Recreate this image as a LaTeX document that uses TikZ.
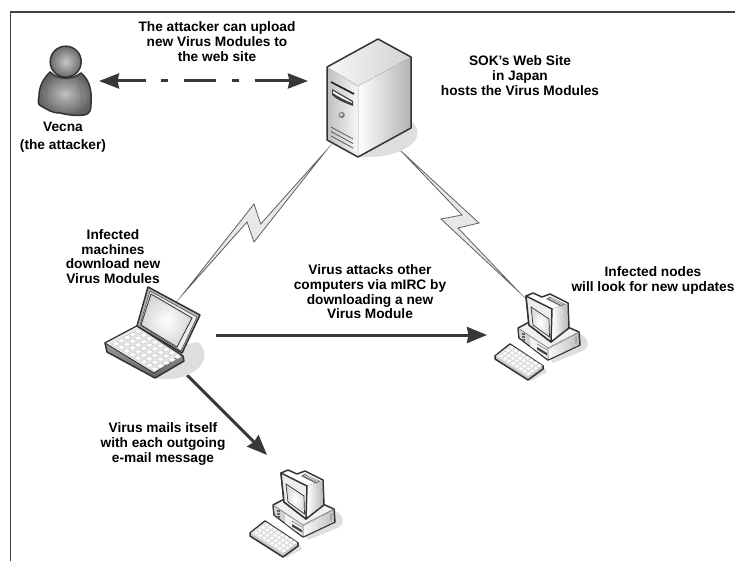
\documentclass[tikz,border=0pt]{standalone}
\usepackage{fontspec}
\setmainfont{Liberation Sans}
\usetikzlibrary{arrows.meta,shadings}
\tikzset{
 lab/.style={font=\bfseries\fontsize{13.7}{14.7}\selectfont,align=center,text=black,inner sep=0pt},
 anchorbox/.style={inner sep=0pt,minimum size=0pt,outer sep=0pt},
 bolt/.style={draw=black!62,fill=black!9,line width=.8pt,line join=miter,miter limit=40},
 flow/.style={draw=black!78,line width=3pt,-{Stealth[inset=1.5pt,length=20pt,width=16pt]}},
 duplex/.style={draw=black!78,line width=3pt,{Stealth[inset=1.5pt,length=20pt,width=15pt]}-{Stealth[inset=1.5pt,length=20pt,width=15pt]},dash pattern=on 29pt off 15pt on 7pt off 16pt on 32pt off 16pt on 7pt off 16pt on 40pt off 0pt},
 icon/.style={draw=black!80,line width=1.5pt,line join=round},
 dropshade/.style={fill=black!13,draw=none},
}
\begin{document}
\begin{tikzpicture}[x=1pt,y=-1pt]
\useasboundingbox (0,0) rectangle (735,561);
\fill[white] (0,0) rectangle (735,561);
% frame
\draw[black!75,line width=1.4pt] (10.5,561) -- (10.5,12) -- (735,12);
% anchors
\node[anchorbox] (vecna) at (99,81) {};
\node[anchorbox] (server) at (308,81) {};
\node[anchorbox] (laptop) at (216,335) {};
\node[anchorbox] (pcA) at (487,335) {};
\node[anchorbox] (lapB) at (187,375) {};
\node[anchorbox] (pcB) at (267,455) {};
\node[anchorbox] (serverSW) at (325,152) {};
\node[anchorbox] (laptopNE) at (183,294) {};
\node[anchorbox] (serverSE) at (402,152) {};
\node[anchorbox] (pcN) at (518,291) {};
% bolts
\draw[bolt] (serverSW.center) -- (260.7,224) -- (254,204) -- (laptopNE.center) -- (247,222) -- (254,242) -- cycle;
\draw[bolt] (serverSE.center) -- (479,223) -- (458,228) -- (pcN.center) -- (441,219) -- (462,215) -- cycle;
% arrows
\draw[duplex] (vecna.center) -- (server.center);
\draw[flow] (laptop.center) -- (pcA.center);
\draw[flow] (lapB.center) -- (pcB.center);
% person
\draw[icon,inner color=black!25,outer color=black!62]
 (50,72) .. controls (42,80) and (39,88) .. (39,96) .. controls (38,102) and (38,105) .. (41,106)
 .. controls (48,110) and (52,113) .. (60,113) .. controls (68,115) and (76,116) .. (84,115)
 .. controls (91,114) and (91,108) .. (91,104) .. controls (92,92) and (90,80) .. (81,73)
 .. controls (72,80) and (58,80) .. (50,72) -- cycle;
\draw[black!55,line width=.6pt] (49,82) .. controls (46,92) and (46,100) .. (46,107);
\draw[black!55,line width=.6pt] (79,84) .. controls (82,92) and (82,100) .. (81,111);
\draw[icon,inner color=black!22,outer color=black!58] (65.7,61.7) circle (15.5);
% server
\fill[dropshade] (405,118) .. controls (420,124) and (422,138) .. (408,147) .. controls (395,155) and (378,158) .. (359,157) -- cycle;
\fill[left color=white,right color=black!30] (358,86) -- (411,57) -- (411,128) -- (358,157) -- cycle;
\fill[left color=black!25,right color=black!3] (327,67) -- (358,86) -- (358,157) -- (327,140) -- cycle;
\fill[left color=black!3,right color=black!18] (327,67) -- (378,39) -- (411,57) -- (358,86) -- cycle;
\draw[black!22,line width=.5pt] (358,86) -- (358,157) (358,86) -- (411,57) (327,67) -- (358,86);
\draw[icon] (327,67) -- (378,39) -- (411,57) -- (411,128) -- (358,157) -- (327,140) -- cycle;
\draw[black!85,line width=1.7pt] (331,82) -- (354,94);
\fill[black!75] (332,89) -- (353,101) -- (353,106) .. controls (345,103) and (337,100) .. (332,95) -- cycle;
\fill[white] (333,91) -- (352,102) -- (352,103) .. controls (345,100) and (339,97) .. (333,93) -- cycle;
\shade[ball color=black!30] (341.7,115) circle (3);
\draw[black!65,line width=.8pt] (331,127) -- (353,139) (331,131.5) -- (353,143.5) (331,136) -- (353,148);
% laptop
\fill[dropshade] (198,342) .. controls (207,349) and (207,362) .. (196,370) .. controls (186,378) and (170,381) .. (155,378) -- (182,345) -- cycle;
\draw[icon,top color=black!30,bottom color=black!60] (105,343) -- (137,326) -- (183,356) -- (184,361) -- (155,378) -- (107,352) -- cycle;
\draw[black!80,line width=.9pt,fill=black!9] (105,343) -- (137,326) -- (181,355) -- (154,373) -- cycle;
\foreach \u in {0,...,7}{\foreach \v in {0,...,4}{
 \pgfmathsetmacro\kx{106+(\u+.6)*5.6+(\v+.45)*5.6}
 \pgfmathsetmacro\ky{343+(\u+.6)*3.6-(\v+.45)*3.1}
 \fill[white,draw=black!28,line width=.25pt] (\kx,\ky) -- ++(4.3,-2.3) -- ++(3.6,2.3) -- ++(-4.3,2.4) -- cycle;}}
\draw[icon,fill=black!28] (137,326) -- (148,287) -- (200,315) -- (182,353) -- cycle;
\draw[black!70,line width=.6pt,fill=black!8] (140,325) -- (150,291) -- (197,317) -- (181,351) -- cycle;
\draw[black!75,line width=.9pt,inner color=white,outer color=black!16] (141,325) -- (151,294) -- (192,318) -- (177,347) -- cycle;
% desktop computers
\foreach \ox/\oy in {0/0,-245/177}{
\begin{scope}[shift={(\ox,\oy)}]
 \fill[dropshade] (575,331) .. controls (590,337) and (592,348) .. (580,352) -- (553,363) -- (548,355) -- cycle;
 \fill[dropshade] (543,366) -- (547,372) -- (531,381) -- (526,377) -- cycle;
 % base
 \draw[icon,fill=black!6] (518,328) -- (535,319) -- (570,328) -- (579,332) -- (580,345) -- (548,360) -- (519,338) -- cycle;
 \fill[left color=black!3,right color=black!25] (549,349) -- (578.5,333) -- (579,345) -- (549,359) -- cycle;
 \fill[black!18] (519,329) -- (548,349) -- (548,359) -- (520,338) -- cycle;
 \fill[black!5] (530,337) -- (548,349) -- (548,359) -- (530,346) -- cycle;
 \draw[black!55,line width=.6pt] (518,328) -- (548,348) -- (579,332) (548,348) -- (548,360);
 \draw[black!60,line width=2.6pt,dash pattern=on .7pt off .7pt] (523.5,333) -- (523.5,341);
 \draw[black!55,line width=.6pt] (537,344) -- (547,350);
 \fill[black!75] (537,347) -- (547,353) -- (547,355.5) -- (537,349.5) -- cycle;
 \fill[black!35] (575,337) -- (577,336) -- (577,343) -- (575,344) -- cycle;
 % monitor
 \draw[icon,fill=white] (526,296) -- (533,293) -- (542,297) -- (550,294) -- (568,303) -- (569,328) -- (551,342) -- (529,325) -- cycle;
 \fill[left color=white,right color=black!28] (552,309) -- (567.5,303.5) -- (568,327.5) -- (552,340) -- cycle;
 \fill[black!55] (546,299) -- (550,296.5) -- (565,304) -- (561,306.5) -- cycle;
 \draw[white,line width=.5pt] (549,298) -- (562,305) (551,297.5) -- (563,304);
 \draw[icon,fill=black!7] (526,296) -- (552,309) -- (551,342) -- (529,325) -- cycle;
 \draw[black!80,line width=.7pt,inner color=white,outer color=black!14] (531,307) -- (549,319) -- (549.5,337) -- (533,325) -- cycle;
 % keyboard
 \draw[icon,fill=black!22] (495,356) -- (510,344) -- (543,366) -- (543,369) -- (528,380) -- (495,359) -- cycle;
 \fill[black!8] (496,356) -- (510,345) -- (542,366) -- (528,376.5) -- cycle;
 \foreach \u in {0,...,7}{\foreach \v in {0,...,3}{
  \pgfmathsetmacro\kx{497+(\u+.25)*3.9+(\v+.2)*3.4}
  \pgfmathsetmacro\ky{356+(\u+.25)*2.55-(\v+.2)*2.7}
  \fill[white,draw=black!22,line width=.2pt] (\kx,\ky) -- ++(2.8,-2.3) -- ++(3,2) -- ++(-2.8,2.2) -- cycle;}}
\end{scope}}
% labels
\node[lab] (t1) at (217,41.5) {The attacker can upload\\new Virus Modules to\\the web site};
\node[lab] (t2) at (63,137) {Vecna\\[3pt](the attacker)};
\node[lab] (t3) at (520,75.5) {SOK's Web Site\\in Japan\\hosts the Virus Modules};
\node[lab] (t4) at (113,256.5) {Infected\\machines\\download new\\Virus Modules};
\node[lab] (t5) at (370,292) {Virus attacks other\\computers via mIRC by\\downloading a new\\Virus Module};
\node[lab] (t6) at (653,280.5) {Infected nodes\\will look for new updates};
\node[lab] (t7) at (163,444) {Virus mails itself\\with each outgoing\\e-mail message};
\end{tikzpicture}
\end{document}
